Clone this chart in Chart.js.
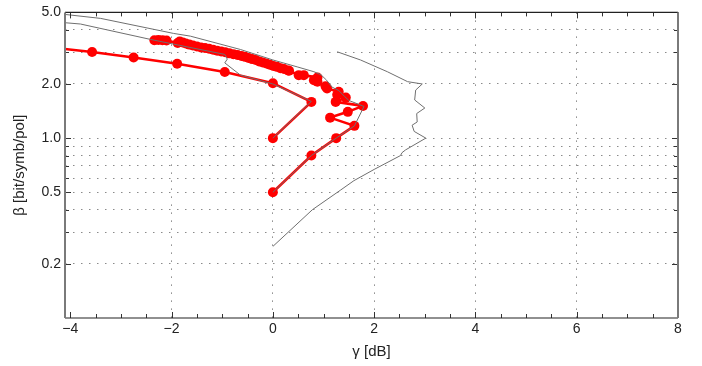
<!DOCTYPE html>
<html>
<head>
<meta charset="utf-8">
<script src="https://cdn.jsdelivr.net/npm/chart.js@4.4.1/dist/chart.umd.min.js"></script>
<style>
  body { margin: 0; background: #fff; }
  canvas { display: block; }
</style>
</head>
<body>
<canvas id="chart" width="702" height="366"></canvas>
<script>
// red path, lower branch (starts left of the plot)
const lowerPathGamma = [-4.42, -3.57, -2.75, -1.89, -0.95, 0.00, 0.76, 0.00];
const lowerPathBeta = [3.20, 3.01, 2.81, 2.59, 2.33, 2.02, 1.59, 1.00];

// red path, upper branch (from 0.5 up into the dense cluster)
const upperPathGamma = [0.00, 0.76, 1.25, 1.61, 1.13, 1.48, 1.78, 1.24, 1.44, 1.27, 1.30, 1.07, 1.04, 0.88, 0.81, 0.88, 0.61, 0.51, 0.32,
    0.30, 0.22, 0.15, 0.08, 0.01, -0.06, -0.13, -0.20, -0.27, -0.34, -0.41, -0.48, -0.55, -0.62, -0.70, -0.78, -0.86, -0.94,
    -1.02, -1.10, -1.18, -1.26, -1.34, -1.42, -1.50, -1.58, -1.65, -1.72, -1.78, -1.84, -1.88, -2.10, -2.18, -2.26, -2.34];
const upperPathBeta = [0.50, 0.80, 1.00, 1.17, 1.30, 1.40, 1.51, 1.59, 1.68, 1.74, 1.81, 1.89, 1.94, 2.06, 2.10, 2.17, 2.24, 2.24, 2.37,
    2.38, 2.42, 2.45, 2.49, 2.52, 2.56, 2.60, 2.63, 2.67, 2.72, 2.75, 2.79, 2.83, 2.86, 2.90, 2.93, 2.96, 3.00,
    3.03, 3.06, 3.10, 3.14, 3.17, 3.19, 3.23, 3.27, 3.31, 3.36, 3.40, 3.44, 3.38, 3.49, 3.50, 3.51, 3.50];

// gray boundary curves
const outerGrayGamma = [-4.10, -3.40, -1.96, -1.63, -0.64, 0.00, 0.48, 0.81, 0.95, 1.06, 1.17, 1.30, 1.42, 1.50, 1.80, 1.61, 1.25, 0.76, 0.00];
const outerGrayBeta = [4.87, 4.63, 3.82, 3.69, 3.11, 2.72, 2.49, 2.34, 2.25, 2.10, 1.92, 1.84, 1.70, 1.62, 1.50, 1.17, 1.00, 0.80, 0.50];

const innerGrayGamma = [-4.10, -3.80, -2.42, -1.89, -0.95, -0.90, -0.95, -0.64, 0.00, 0.76, 0.00];
const innerGrayBeta = [4.38, 4.31, 3.54, 3.30, 2.92, 2.75, 2.62, 2.24, 2.00, 1.60, 1.00];

const rightGrayGamma = [1.27, 1.73, 2.26, 2.66, 2.95, 2.82, 2.80, 3.00, 2.84, 2.85, 2.75, 2.79, 3.02, 2.62, 2.55, 2.52, 2.00, 1.60, 1.34, 0.78, 0.00];
const rightGrayBeta = [3.02, 2.72, 2.34, 2.06, 2.00, 1.85, 1.63, 1.47, 1.37, 1.23, 1.18, 1.09, 1.00, 0.86, 0.83, 0.80, 0.67, 0.58, 0.515, 0.40, 0.25];

// axes
const xMin = -4.105, xMax = 8;
const yMin = 0.1, yMax = 5.0;
const xTickMarks = [-4, -3.5, -3, -2.5, -2, -1.5, -1, -0.5, 0, 0.5, 1, 1.5, 2, 2.5, 3, 3.5, 4, 4.5, 5, 5.5, 6, 6.5, 7, 7.5, 8];
const xTickLabels = [-4, -2, 0, 2, 4, 6, 8];
const xGridLines = [-2, 0, 2, 4, 6];
const yTickMarks = [0.2, 0.3, 0.4, 0.5, 0.6, 0.7, 0.8, 0.9, 1, 2, 3, 4, 5];
const yTickLabels = [0.2, 0.5, 1, 2, 5];

const toPoints = (xs, ys) => xs.map((x, i) => ({x: x, y: ys[i]}));

const grayLine = (xs, ys) => ({
    data: toPoints(xs, ys),
    showLine: true,
    borderColor: '#6f6f6f',
    borderWidth: 1,
    pointRadius: 0,
    clip: 0
});

const redLine = (xs, ys) => ({
    data: toPoints(xs, ys),
    showLine: true,
    borderColor: '#ff0000',
    backgroundColor: '#ff0000',
    borderWidth: 2.6,
    pointRadius: 5,
    pointBorderWidth: 0,
    clip: 0
});

const family = '"Liberation Sans", Arial, Helvetica, sans-serif';
const tickFont = {family: family, size: 14};
const titleFont = {family: family, size: 15};

const frameTicks = {
    id: 'frameTicks',
    afterDatasetsDraw(chart) {
        const {ctx, chartArea: a, scales: {x, y}} = chart;
        ctx.save();
        ctx.strokeStyle = '#333';
        ctx.lineWidth = 1;
        ctx.beginPath();
        xTickMarks.forEach(v => {
            const px = Math.round(x.getPixelForValue(v)) + 0.5;
            const len = xTickLabels.includes(v) ? 6 : 4;
            ctx.moveTo(px, a.bottom); ctx.lineTo(px, a.bottom - len);
            ctx.moveTo(px, a.top); ctx.lineTo(px, a.top + len);
        });
        yTickMarks.forEach(v => {
            const py = Math.round(y.getPixelForValue(v)) + 0.5;
            const len = yTickLabels.includes(v) ? 6 : 4;
            ctx.moveTo(a.left, py); ctx.lineTo(a.left + len, py);
            ctx.moveTo(a.right, py); ctx.lineTo(a.right - len, py);
        });
        ctx.stroke();

        ctx.strokeStyle = '#222';
        ctx.lineWidth = 1.2;
        ctx.beginPath();
        ctx.moveTo(a.left, a.top); ctx.lineTo(a.right, a.top);
        ctx.moveTo(a.left, a.bottom); ctx.lineTo(a.right, a.bottom);
        ctx.stroke();
        ctx.strokeStyle = '#7a7a7a';
        ctx.lineWidth = 2;
        ctx.beginPath();
        ctx.moveTo(a.left, a.top); ctx.lineTo(a.left, a.bottom);
        ctx.moveTo(a.right, a.top); ctx.lineTo(a.right, a.bottom);
        ctx.stroke();
        ctx.restore();
    }
};

new Chart(document.getElementById('chart'), {
    type: 'scatter',
    data: {
        datasets: [
            grayLine(outerGrayGamma, outerGrayBeta),
            grayLine(innerGrayGamma, innerGrayBeta),
            grayLine(rightGrayGamma, rightGrayBeta),
            redLine(upperPathGamma, upperPathBeta),
            redLine(lowerPathGamma, lowerPathBeta)
        ]
    },
    options: {
        responsive: false,
        animation: false,
        devicePixelRatio: 1,
        layout: {padding: {left: 0, top: 12, right: 24, bottom: 0}},
        plugins: {
            legend: {display: false},
            tooltip: {enabled: false}
        },
        scales: {
            x: {
                type: 'linear',
                min: xMin,
                max: xMax,
                afterBuildTicks: scale => {
                    scale.ticks = xTickLabels.map(v => ({value: v}));
                },
                afterFit: scale => { scale.height = 48; },
                ticks: {
                    font: tickFont,
                    color: '#222',
                    padding: 3,
                    maxRotation: 0,
                    callback: v => (v < 0 ? '\u2212' + Math.abs(v) : String(v))
                },
                grid: {
                    color: ctx => (xGridLines.includes(ctx.tick && ctx.tick.value) ? '#8a8a8a' : 'rgba(0,0,0,0)'),
                    lineWidth: 1,
                    drawTicks: false
                },
                border: {display: false, dash: [1.5, 6.5]},
                title: {
                    display: true,
                    text: '\u03b3 [dB]',
                    font: titleFont,
                    color: '#222',
                    padding: {top: 0, bottom: 5}
                }
            },
            y: {
                type: 'logarithmic',
                min: yMin,
                max: yMax,
                afterBuildTicks: scale => {
                    scale.ticks = yTickMarks.map(v => ({value: v}));
                },
                afterFit: scale => { scale.width = 65; },
                ticks: {
                    font: tickFont,
                    color: '#222',
                    padding: 4,
                    autoSkip: false,
                    callback: v => (yTickLabels.includes(v) ? v.toFixed(1) : '')
                },
                grid: {
                    color: ctx => (ctx.tick && ctx.tick.value < 5 ? '#8a8a8a' : 'rgba(0,0,0,0)'),
                    lineWidth: 1,
                    drawTicks: false
                },
                border: {display: false, dash: [1.5, 6.5]},
                title: {
                    display: true,
                    text: '\u03b2 [bit/symb/pol]',
                    font: titleFont,
                    color: '#222',
                    padding: {top: 11, bottom: 0}
                }
            }
        }
    },
    plugins: [frameTicks]
});
</script>
</body>
</html>
